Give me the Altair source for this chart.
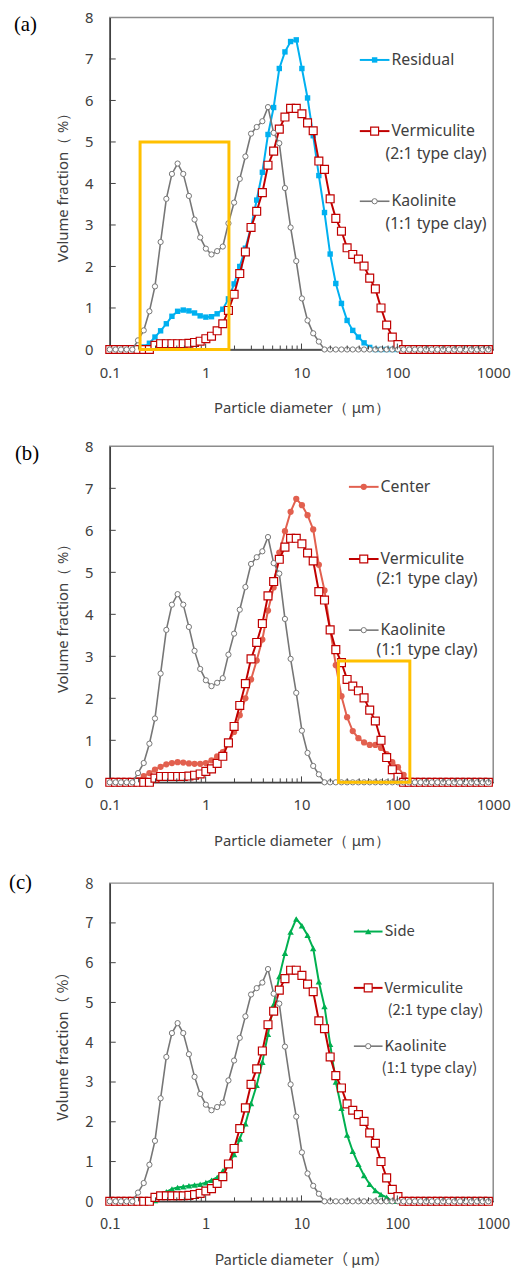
import altair as alt
import pandas as pd

# ---------------- data ----------------
diam = [0.100, 0.115, 0.131, 0.150, 0.172, 0.197, 0.226, 0.259, 0.296, 0.339,
        0.389, 0.445, 0.510, 0.584, 0.669, 0.766, 0.877, 1.005, 1.151, 1.318,
        1.510, 1.729, 1.981, 2.269, 2.599, 2.976, 3.409, 3.905, 4.472, 5.122,
        5.867, 6.720, 7.697, 8.816, 10.097, 11.565, 13.246, 15.172, 17.377, 19.904,
        22.797, 26.111, 29.907, 34.255, 39.234, 44.938, 51.471, 58.953, 67.523, 77.339,
        88.583, 101.46, 116.21, 133.10, 152.45, 174.62, 200.00, 229.07, 262.37, 300.52,
        344.21, 394.25, 451.56, 517.20, 592.39, 678.50, 777.14, 890.12]

kaolinite = [0, 0, 0, 0, 0, 0.22, 0.46, 0.92, 1.52, 2.59,
             3.63, 4.23, 4.48, 4.23, 3.70, 3.13, 2.70, 2.43, 2.29, 2.37,
             2.48, 3.04, 3.54, 4.11, 4.65, 5.20, 5.36, 5.50, 5.84, 5.22,
             4.97, 3.89, 2.94, 2.13, 1.23, 0.70, 0.39, 0.19, 0, 0,
             0, 0, 0, 0, 0, 0, 0, 0, 0, 0,
             0, 0, 0, 0, 0, 0, 0, 0, 0, 0,
             0, 0, 0, 0, 0, 0, 0, 0]

vermiculite = [0, 0, 0, 0, 0, 0, 0, 0, 0.10, 0.14,
               0.14, 0.14, 0.14, 0.14, 0.15, 0.17, 0.20, 0.26, 0.32, 0.45,
               0.62, 0.94, 1.33, 1.83, 2.35, 2.94, 3.33, 3.78, 4.44, 4.78,
               5.31, 5.60, 5.81, 5.81, 5.68, 5.46, 5.27, 4.54, 4.34, 3.63,
               3.16, 2.85, 2.45, 2.29, 2.18, 2.01, 1.72, 1.46, 1.00, 0.59,
               0.30, 0.12, 0, 0, 0, 0, 0, 0, 0, 0,
               0, 0, 0, 0, 0, 0, 0, 0]

residual = [0, 0, 0, 0, 0, 0, 0.06, 0.15, 0.30, 0.45,
            0.62, 0.80, 0.92, 0.95, 0.93, 0.88, 0.81, 0.78, 0.79, 0.86,
            0.97, 1.22, 1.58, 2.00, 2.44, 2.95, 3.60, 4.27, 5.18, 5.83,
            6.77, 7.17, 7.42, 7.46, 6.77, 6.06, 5.15, 4.19, 3.30, 2.30,
            1.59, 1.11, 0.70, 0.46, 0.30, 0.16, 0.05, 0, 0, 0,
            0, 0, 0, 0, 0, 0, 0, 0, 0, 0,
            0, 0, 0, 0, 0, 0, 0, 0]

center = [0, 0, 0, 0, 0, 0.05, 0.15, 0.22, 0.30, 0.37,
          0.43, 0.46, 0.48, 0.47, 0.45, 0.44, 0.44, 0.46, 0.52, 0.62,
          0.72, 0.95, 1.20, 1.60, 2.00, 2.45, 2.90, 3.40, 4.09, 4.64,
          5.47, 5.98, 6.44, 6.75, 6.60, 6.36, 6.02, 5.18, 4.57, 3.65,
          2.79, 2.05, 1.55, 1.22, 1.05, 0.95, 0.89, 0.89, 0.82, 0.67,
          0.48, 0.36, 0.18, 0, 0, 0, 0, 0, 0, 0,
          0, 0, 0, 0, 0, 0, 0, 0]

side = [0, 0, 0, 0, 0, 0, 0, 0, 0.02, 0.14,
        0.24, 0.31, 0.35, 0.37, 0.39, 0.41, 0.43, 0.47, 0.53, 0.60,
        0.76, 0.93, 1.18, 1.57, 1.95, 2.46, 2.92, 3.50, 4.20, 4.95,
        5.65, 6.24, 6.77, 7.10, 6.93, 6.69, 6.36, 5.52, 4.90, 3.95,
        3.00, 2.34, 1.67, 1.26, 0.93, 0.65, 0.43, 0.27, 0.17, 0.10,
        0, 0, 0, 0, 0, 0, 0, 0, 0, 0,
        0, 0, 0, 0, 0, 0, 0, 0]

x_label_vals = [0.1, 1, 10, 100, 1000]
x_major_ticks = [1, 10, 100]
x_minor_ticks = [0.2, 0.3, 0.4, 0.5, 0.6, 0.7, 0.8, 0.9,
                 2, 3, 4, 5, 6, 7, 8, 9,
                 20, 30, 40, 50, 60, 70, 80, 90,
                 200, 300, 400, 500, 600, 700, 800, 900]
y_label_vals = [0, 1, 2, 3, 4, 5, 6, 7, 8]
y_ticks = [1, 2, 3, 4, 5, 6, 7]

box_a_x = [0.207, 1.75]
box_a_y = [0.0, 5.0]
box_b_x = [24.3, 135.0]
box_b_y = [0.0, 2.89]

# ---------------- styles ----------------
BLUE = "#00B0F0"
RED = "#C00000"
GRAY = "#767676"
CORAL = "#E2604F"
GREEN = "#00B050"
ORANGE = "#FFC000"
AX = "#404040"
TXT = "#404040"

W = 388
XSC = alt.Scale(type="log", domain=[0.1, 1000])
YSC = alt.Scale(domain=[0, 8], nice=False, zero=False)
one = pd.DataFrame({"k": [0]})


def make_axes(font):
    xax = alt.Axis(values=x_label_vals, format="~g", ticks=False, grid=False,
                   domainColor=AX, domainWidth=1.5, labelFont=font, labelFontSize=15,
                   labelColor=TXT, labelPadding=16, labelFlush=False,
                   title="Particle diameter\uff08  \u03bcm\uff09", titleFont=font,
                   titleFontSize=15, titleFontWeight="normal", titleColor=TXT,
                   titlePadding=21)
    yax = alt.Axis(values=y_label_vals, ticks=False, grid=False,
                   domainColor=AX, domainWidth=1.5, labelFont=font, labelFontSize=15,
                   labelColor=TXT, labelPadding=17, labelFlush=False,
                   title="Volume fraction\uff08 %\uff09", titleFont=font,
                   titleFontSize=15, titleFontWeight="normal", titleColor=TXT,
                   titlePadding=14)
    return xax, yax


def series_layers(df, field, color, shape, size, filled, stroke_w, line_w, xax, yax):
    enc = dict(x=alt.X("d:Q", scale=XSC, axis=xax), y=alt.Y(f"{field}:Q", scale=YSC, axis=yax))
    line = alt.Chart(df).mark_line(color=color, strokeWidth=line_w).encode(**enc)
    if filled:
        pts = alt.Chart(df).mark_point(shape=shape, size=size, filled=True, color=color,
                                       opacity=1).encode(**enc)
    else:
        pts = alt.Chart(df).mark_point(shape=shape, size=size, filled=True, fill="white",
                                       stroke=color, strokeWidth=stroke_w, opacity=1).encode(**enc)
    return [line, pts]


def legend_item(x0, x1, y, text, color, shape, size, filled, stroke_w, line_w, tx, font, fs,
                sub=None, subx=None, suby=None):
    layers = []
    layers.append(alt.Chart(one).mark_rule(color=color, strokeWidth=line_w).encode(
        x=alt.value(x0), x2=alt.value(x1), y=alt.value(y)))
    if filled:
        layers.append(alt.Chart(one).mark_point(shape=shape, size=size, filled=True, color=color,
                                                opacity=1).encode(
            x=alt.value((x0 + x1) / 2), y=alt.value(y)))
    else:
        layers.append(alt.Chart(one).mark_point(shape=shape, size=size, filled=True, fill="white",
                                                stroke=color, strokeWidth=stroke_w,
                                                opacity=1).encode(
            x=alt.value((x0 + x1) / 2), y=alt.value(y)))
    layers.append(alt.Chart(one).mark_text(font=font, fontSize=fs, color=TXT, align="left",
                                           baseline="middle").encode(
        x=alt.value(tx), y=alt.value(y), text=alt.value(text)))
    if sub:
        layers.append(alt.Chart(one).mark_text(font=font, fontSize=fs, color=TXT, align="left",
                                               baseline="middle").encode(
            x=alt.value(subx), y=alt.value(suby), text=alt.value(sub)))
    return layers


def panel(letter, lx, ly, sample_vals, sample_name, sstyle, leg, box, font, h):
    xax, yax = make_axes(font)
    df = pd.DataFrame({"d": diam, "s": sample_vals, "v": vermiculite, "k": kaolinite})
    layers = []
    layers += series_layers(df, "s", xax=xax, yax=yax, **sstyle)
    layers += series_layers(df, "v", RED, "square", 64, False, 1.2, 2, xax, yax)
    layers += series_layers(df, "k", GRAY, "circle", 28, False, 1.0, 1.6, xax, yax)
    # inward ticks
    layers.append(alt.Chart(pd.DataFrame({"d": x_major_ticks})).mark_rule(color=AX, strokeWidth=1).encode(
        x=alt.X("d:Q", scale=XSC, axis=xax), y=alt.value(h), y2=alt.value(h - 6)))
    layers.append(alt.Chart(pd.DataFrame({"d": x_minor_ticks})).mark_rule(color=AX, strokeWidth=1).encode(
        x=alt.X("d:Q", scale=XSC, axis=xax), y=alt.value(h), y2=alt.value(h - 4)))
    layers.append(alt.Chart(pd.DataFrame({"s": y_ticks})).mark_rule(color=AX, strokeWidth=1).encode(
        y=alt.Y("s:Q", scale=YSC, axis=yax), x=alt.value(0), x2=alt.value(6)))
    if box is not None:
        bx, by = box
        bdf = pd.DataFrame({"d": [bx[0]], "d2": [bx[1]], "s": [by[0]], "s2": [by[1]]})
        layers.append(alt.Chart(bdf).mark_rect(fillOpacity=0, stroke=ORANGE, strokeWidth=3).encode(
            x=alt.X("d:Q", scale=XSC, axis=xax), x2="d2:Q",
            y=alt.Y("s:Q", scale=YSC, axis=yax), y2="s2:Q"))
    # legend
    fs = leg["fs"]
    x0, x1, tx = leg["x0"], leg["x1"], leg["tx"]
    layers += legend_item(x0, x1, leg["y1"], sample_name, tx=tx, font=font, fs=fs, **sstyle)
    layers += legend_item(x0, x1, leg["y2"], "Vermiculite", RED, "square", 64, False, 1.2, 2,
                          tx, font, fs, sub="(2:1 type clay)", subx=leg["sx2"], suby=leg["y2"] + leg["dy"])
    layers += legend_item(x0, x1, leg["y3"], "Kaolinite", GRAY, "circle", 28, False, 1.0, 1.6,
                          tx, font, fs, sub="(1:1 type clay)", subx=leg["sx3"], suby=leg["y3"] + leg["dy"])
    # panel letter
    layers.append(alt.Chart(one).mark_text(font="Liberation Serif", fontSize=21, color="black",
                                           align="left", baseline="middle").encode(
        x=alt.value(lx), y=alt.value(ly), text=alt.value(letter)))
    return alt.layer(*layers).properties(width=W, height=h)


pa = panel("(a)", -97, 8, residual, "Residual",
           dict(color=BLUE, shape="square", size=30, filled=True, stroke_w=1, line_w=2),
           dict(x0=253, x1=283, tx=285, y1=43, y2=115, y3=186, sx2=279, sx3=279, dy=23, fs=16),
           (box_a_x, box_a_y), "Noto Sans", 336)

pb = panel("(b)", -96, 8, center, "Center",
           dict(color=CORAL, shape="circle", size=40, filled=True, stroke_w=1, line_w=2),
           dict(x0=242, x1=272, tx=274, y1=41, y2=114, y3=186, sx2=270, sx3=270, dy=20, fs=16),
           (box_b_x, box_b_y), "Noto Sans", 340)

pc = panel("(c)", -102, 0, side, "Side",
           dict(color=GREEN, shape="triangle-up", size=42, filled=True, stroke_w=1, line_w=2),
           dict(x0=247, x1=276, tx=278, y1=49, y2=106, y3=165, sx2=281, sx3=275, dy=22, fs=15),
           None, "Noto Sans CJK JP", 322)

chart = alt.vconcat(pa, pb, pc, spacing=22, padding={"left": 0, "top": -6, "right": 0, "bottom": 0}
                    ).configure_view(stroke="#8c8c8c", strokeWidth=1.5)

chart.save("out.html", embed_options={"renderer": "svg", "actions": False})
